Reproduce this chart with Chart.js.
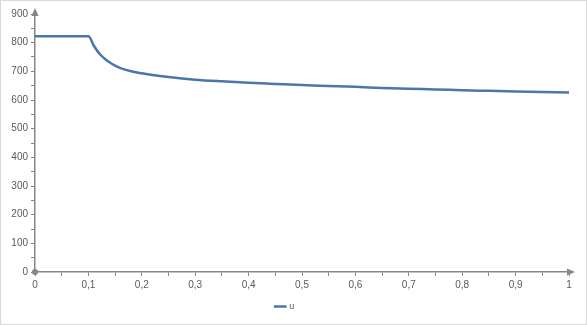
<!DOCTYPE html>
<html>
<head>
<meta charset="utf-8">
<script src="https://cdn.jsdelivr.net/npm/chart.js@4"></script>
<style>
	body { margin: 0; background: #fff; }
	#wrap { width: 587px; height: 325px; box-sizing: border-box; border: 1px solid #d9d9d9; }
</style>
</head>
<body>
<div id="wrap"><canvas id="chart" width="585" height="323"></canvas></div>
<script>
// values
var xValues = [0, 0.1, 0.11, 0.12, 0.13, 0.14, 0.15, 0.16, 0.18, 0.2, 0.22, 0.25, 0.3, 0.35, 0.4, 0.45, 0.5, 0.55, 0.6, 0.65, 0.7, 0.75, 0.8, 0.85, 0.9, 0.95, 1];
var uValues = [822, 822, 790, 763, 745, 731, 720, 711, 700, 693, 687, 680, 671, 665, 660, 656, 652, 649, 646, 642, 639, 637, 634, 632, 630, 628, 626];
var seriesName = "u";

var axisColor = "#868686";
var labelColor = "#595959";

//* draws arrow heads at the ends of both axes and the dot at origin
const axisArrows = {
	id: "axisArrows",
	afterDraw(chart) {
		const ctx = chart.ctx;
		const a = chart.chartArea;
		ctx.save();
		ctx.fillStyle = axisColor;
		ctx.beginPath();
		ctx.moveTo(a.left, a.top - 6);
		ctx.lineTo(a.left - 3.5, a.top + 2);
		ctx.lineTo(a.left + 3.5, a.top + 2);
		ctx.fill();
		ctx.beginPath();
		ctx.moveTo(a.right + 6, a.bottom);
		ctx.lineTo(a.right - 2, a.bottom - 3.5);
		ctx.lineTo(a.right - 2, a.bottom + 3.5);
		ctx.fill();
		ctx.beginPath();
		ctx.arc(a.left, a.bottom, 3, 0, Math.PI * 2);
		ctx.fill();
		ctx.restore();
	},
};

const config = {
	type: "scatter",
	data: {
		datasets: [
			{
				label: seriesName,
				data: xValues.map((x, i) => ({ x: x, y: uValues[i] })),
				showLine: true,
				borderColor: "#4a76ad",
				backgroundColor: "#4a76ad",
				borderWidth: 2.5,
				pointRadius: 0,
				cubicInterpolationMode: "monotone",
			},
		],
	},
	options: {
		responsive: false,
		animation: false,
		layout: {
			padding: { top: 13, right: 17, left: 0, bottom: 3 },
		},
		plugins: {
			legend: {
				position: "bottom",
				labels: {
					usePointStyle: true,
					pointStyle: "line",
					boxWidth: 22,
					color: labelColor,
					font: { family: "Liberation Sans", size: 9 },
					padding: 8,
				},
			},
			tooltip: { enabled: false },
		},
		scales: {
			x: {
				type: "linear",
				min: 0,
				max: 1,
				afterFit: (scale) => { scale.height = 22; },
				border: { color: axisColor, width: 1.5 },
				grid: { drawOnChartArea: false, drawTicks: true, tickLength: 4, color: axisColor },
				ticks: {
					stepSize: 0.05,
					color: labelColor,
					font: { family: "Liberation Sans", size: 10 },
					maxRotation: 0,
					autoSkip: false,
					callback: function (value) {
						const r = Math.round(value * 100);
						if (r % 10 !== 0) return "";
						return (r / 100).toString().replace(".", ",");
					},
				},
			},
			y: {
				min: 0,
				max: 900,
				afterFit: (scale) => { scale.width = 34; },
				border: { color: axisColor, width: 1.5 },
				grid: { drawOnChartArea: false, drawTicks: true, tickLength: 4, color: axisColor },
				ticks: {
					stepSize: 50,
					color: labelColor,
					font: { family: "Liberation Sans", size: 10 },
					padding: 3,
					autoSkip: false,
					callback: function (value) {
						return value % 100 === 0 ? value : "";
					},
				},
			},
		},
	},
	plugins: [axisArrows],
};

var chart = new Chart(document.getElementById("chart"), config);
</script>
</body>
</html>
